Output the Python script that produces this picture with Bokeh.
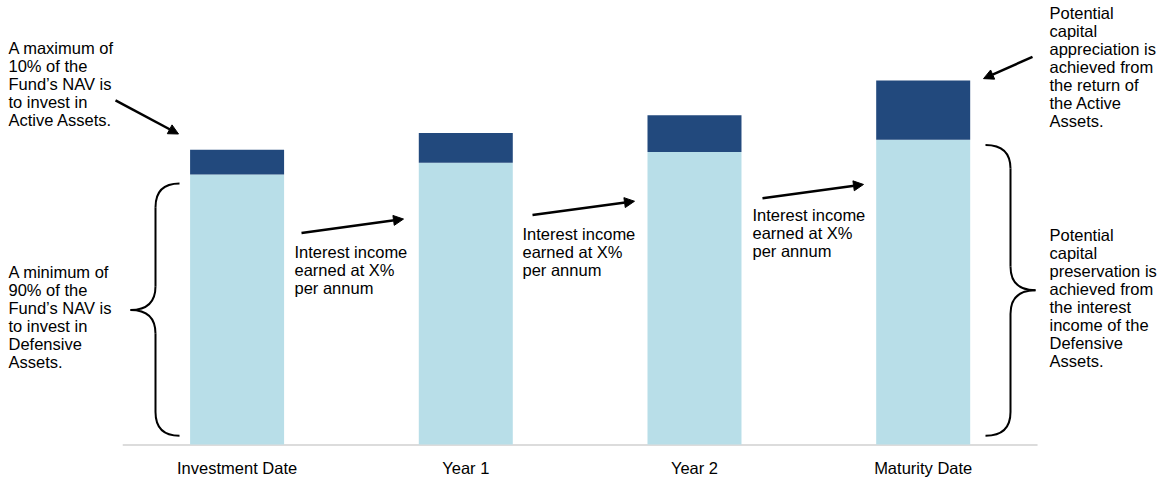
from bokeh.plotting import figure
from bokeh.models import Range1d, FixedTicker, Arrow, NormalHead, ColumnDataSource
from bokeh.core.properties import value
from bokeh.embed import file_html
from bokeh.resources import INLINE

# ---- data ----
categories = ["Investment Date", "Year 1", "Year 2", "Maturity Date"]
defensive = [91.6, 95.6, 99.3, 103.4]   # Defensive Assets (light)
active = [8.4, 10.1, 12.4, 20.1]        # Active Assets (dark)

LIGHT = "#B8DEE8"
DARK = "#22497D"
FONT = "Liberation Sans"
FS = "16.5px"

# ---- layout helpers (pixel -> data for annotations) ----
W, H = 1164, 479
FRAME_H = 452
K = 2.98          # px per unit
BASE = 449        # baseline pixel row
XR0 = -1.0345
SP = 228.7        # px per category


def X(px):
    return XR0 + px / SP


def Y(py):
    return (BASE - py) / K


p = figure(width=W, height=H,
           x_range=Range1d(XR0, XR0 + W / SP),
           y_range=Range1d(-(FRAME_H - BASE) / K, BASE / K),
           output_backend="svg", toolbar_location=None,
           y_axis_location=None,
           min_border_left=0, min_border_right=0, min_border_top=0,
           min_border_bottom=H - FRAME_H)
p.outline_line_color = None
p.grid.visible = False
p.background_fill_color = "white"
p.border_fill_color = "white"

xs = list(range(len(categories)))
src = ColumnDataSource(dict(x=xs, d=defensive,
                            t=[a + b for a, b in zip(defensive, active)]))

# baseline axis line
p.segment(x0=[-0.5], x1=[len(categories) - 0.5], y0=[Y(449.5)], y1=[Y(449.5)],
          line_color="#D0D0D0", line_width=1.5)

p.vbar(x="x", bottom=0, top="d", width=0.411, source=src,
       fill_color=LIGHT, line_color=None)
p.vbar(x="x", bottom="d", top="t", width=0.411, source=src,
       fill_color=DARK, line_color=None)

ax = p.xaxis[0]
ax.ticker = FixedTicker(ticks=xs)
ax.major_label_overrides = {i: c for i, c in enumerate(categories)}
ax.axis_line_color = None
ax.major_tick_line_color = None
ax.minor_tick_line_color = None
ax.major_label_standoff = 5
ax.major_label_text_font = FONT
ax.major_label_text_font_size = FS
ax.major_label_text_color = "black"

# ---- annotation texts ----
interest = "Interest income\nearned at X%\nper annum"
notes = [
    (8, 43, "A maximum of\n10% of the\nFund\u2019s NAV is\nto invest in\nActive Assets."),
    (8, 269, "A minimum of\n90% of the\nFund\u2019s NAV is\nto invest in\nDefensive\nAssets."),
    (294, 249, interest),
    (522, 231, interest),
    (752, 212, interest),
    (1049, 8, "Potential\ncapital\nappreciation is\nachieved from\nthe return of\nthe Active\nAssets."),
    (1049, 232, "Potential\ncapital\npreservation is\nachieved from\nthe interest\nincome of the\nDefensive\nAssets."),
]
CAP_OFF = 4
p.text(x=[X(n[0]) for n in notes], y=[Y(n[1] - CAP_OFF) for n in notes],
       text=[n[2] for n in notes], text_font=value(FONT), text_font_size=FS,
       text_baseline="top", text_align="left", text_line_height=1.0,
       text_color="black")

# ---- arrows ----
arrows = [(115, 101, 178, 135), (301, 235, 403, 221), (532, 217, 634, 203),
          (762, 200, 863, 186), (1032, 57, 983, 79)]
for x0, y0, x1, y1 in arrows:
    p.add_layout(Arrow(end=NormalHead(size=10, fill_color="black", line_color="black",
                                      line_width=1),
                       x_start=X(x0), y_start=Y(y0), x_end=X(x1), y_end=Y(y1),
                       line_width=2.5, line_color="black"))


# ---- braces ----
def brace(x_end, x_spine, x_tip, top, mid, bot, r=24):
    q = dict(x0=[], y0=[], x1=[], y1=[], cx=[], cy=[])

    def add(a, b, c):
        q["x0"].append(X(a[0])); q["y0"].append(Y(a[1]))
        q["x1"].append(X(b[0])); q["y1"].append(Y(b[1]))
        q["cx"].append(X(c[0])); q["cy"].append(Y(c[1]))
    add((x_end, top), (x_spine, top + r), (x_spine, top))
    add((x_spine, mid - r), (x_tip, mid), (x_spine, mid))
    add((x_tip, mid), (x_spine, mid + r), (x_spine, mid))
    add((x_spine, bot - r), (x_end, bot), (x_spine, bot))
    p.quadratic(line_color="black", line_width=2, **q)
    p.segment(x0=[X(x_spine)] * 2, x1=[X(x_spine)] * 2,
              y0=[Y(top + r), Y(mid + r)], y1=[Y(mid - r), Y(bot - r)],
              line_color="black", line_width=2)


brace(179, 155, 130, 185, 313, 440)
brace(985, 1010, 1035, 146, 293, 440)

open("out.html", "w").write(file_html(p, INLINE))
